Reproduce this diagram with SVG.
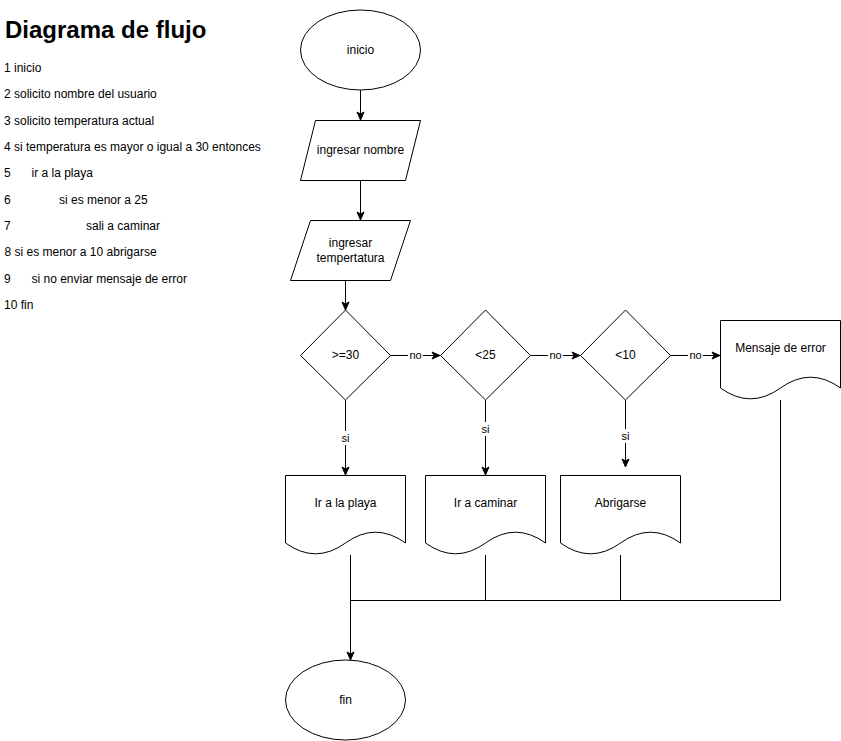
<svg xmlns="http://www.w3.org/2000/svg" width="841" height="741" viewBox="0 0 841 741">
<style>
text{font-family:"Liberation Sans",Arial,Helvetica,sans-serif;fill:#000}
.t{font-size:12px;text-anchor:middle}
.lst{font-size:12px}
.lbl{font-size:11px;text-anchor:middle}
.shp{fill:#fff;stroke:#000;stroke-width:1}
.edge{fill:none;stroke:#000;stroke-width:1}
.lb{fill:#fff}
</style>
<defs>
<marker id="arr" markerUnits="userSpaceOnUse" markerWidth="10" markerHeight="10" viewBox="-9 -5 10 10" refX="0" refY="0" orient="auto">
<path d="M0,0 L-8,-3.5 L-6,0 L-8,3.5 Z" fill="#000" stroke="#000" stroke-width="1"/>
</marker>
</defs>
<rect width="841" height="741" fill="#fff"/>

<g id="notes">
<text x="5" y="38" style="font-size:24px;font-weight:bold">Diagrama de flujo</text>
<text class="lst" x="4" y="72">1 inicio</text>
<text class="lst" x="4" y="98">2 solicito nombre del usuario</text>
<text class="lst" x="4" y="125">3 solicito temperatura actual</text>
<text class="lst" x="4" y="151">4 si temperatura es mayor o igual a 30 entonces</text>
<text class="lst" y="177"><tspan x="4">5</tspan><tspan x="31.5">ir a la playa</tspan></text>
<text class="lst" y="204"><tspan x="4">6</tspan><tspan x="59">si es menor a 25</tspan></text>
<text class="lst" y="230"><tspan x="4">7</tspan><tspan x="86">sali a caminar</tspan></text>
<text class="lst" x="4.5" y="256">8 si es menor a 10 abrigarse</text>
<text class="lst" y="283"><tspan x="4">9</tspan><tspan x="31.5">si no enviar mensaje de error</tspan></text>
<text class="lst" x="4" y="309">10 fin</text>
</g>

<g id="connectors">
<path class="edge" d="M360.5,90 V120" marker-end="url(#arr)"/>
<path class="edge" d="M360.5,180 V220" marker-end="url(#arr)"/>
<path class="edge" d="M345.5,280 V310" marker-end="url(#arr)"/>
<path class="edge" d="M390,355.5 H440" marker-end="url(#arr)"/>
<path class="edge" d="M530,355.5 H580" marker-end="url(#arr)"/>
<path class="edge" d="M670,355.5 H720" marker-end="url(#arr)"/>
<path class="edge" d="M345.5,400 V475" marker-end="url(#arr)"/>
<path class="edge" d="M485.5,400 V475" marker-end="url(#arr)"/>
<path class="edge" d="M625.5,400 V467" marker-end="url(#arr)"/>
<path class="edge" d="M350.5,555 V660" marker-end="url(#arr)"/>
<path class="edge" d="M485.5,555 V600.5 H350.5"/>
<path class="edge" d="M620.5,555 V600.5 H485.5"/>
<path class="edge" d="M780.5,400 V600.5 H620.5"/>
<rect class="lb" x="408" y="348" width="15" height="14"/>
<text class="lbl" x="415.5" y="359">no</text>
<rect class="lb" x="548" y="348" width="15" height="14"/>
<text class="lbl" x="555.5" y="359">no</text>
<rect class="lb" x="688" y="348" width="15" height="14"/>
<text class="lbl" x="695.5" y="359">no</text>
<rect class="lb" x="339" y="431" width="13" height="14"/>
<text class="lbl" x="345.5" y="442">si</text>
<rect class="lb" x="479" y="422" width="13" height="14"/>
<text class="lbl" x="485.5" y="433">si</text>
<rect class="lb" x="619" y="429" width="13" height="14"/>
<text class="lbl" x="625.5" y="440">si</text>
</g>

<g id="inicio">
<ellipse class="shp" cx="360.5" cy="50" rx="60" ry="40"/>
<text class="t" x="360.5" y="54">inicio</text>
</g>
<g id="ingresar-nombre">
<polygon class="shp" points="315.5,120.5 420.5,120.5 405.5,180.5 300.5,180.5"/>
<text class="t" x="360.5" y="154">ingresar nombre</text>
</g>
<g id="ingresar-temperatura">
<polygon class="shp" points="310.5,220.5 410.5,220.5 390.5,280.5 290.5,280.5"/>
<text class="t" x="350.5" y="247">ingresar</text>
<text class="t" x="350.5" y="262">tempertatura</text>
</g>
<g id="cond-30">
<polygon class="shp" points="345.5,310 390.5,355.5 345.5,400 300.5,355.5"/>
<text class="t" x="345.5" y="359">&gt;=30</text>
</g>
<g id="cond-25">
<polygon class="shp" points="485.5,310 530.5,355.5 485.5,400 440.5,355.5"/>
<text class="t" x="485.5" y="359">&lt;25</text>
</g>
<g id="cond-10">
<polygon class="shp" points="625.5,310 670.5,355.5 625.5,400 580.5,355.5"/>
<text class="t" x="625.5" y="359">&lt;10</text>
</g>
<g id="mensaje-error">
<path class="shp" d="M720.5,320.5 H840.5 V388 Q810.5,366.4 780.5,388 Q750.5,409.6 720.5,388 Z"/>
<text class="t" x="780.5" y="352">Mensaje de error</text>
</g>
<g id="ir-playa">
<path class="shp" d="M285.5,475.5 H405.5 V543 Q375.5,521.4 345.5,543 Q315.5,564.6 285.5,543 Z"/>
<text class="t" x="345.5" y="507">Ir a la playa</text>
</g>
<g id="ir-caminar">
<path class="shp" d="M425.5,475.5 H545.5 V543 Q515.5,521.4 485.5,543 Q455.5,564.6 425.5,543 Z"/>
<text class="t" x="485.5" y="507">Ir a caminar</text>
</g>
<g id="abrigarse">
<path class="shp" d="M560.5,475.5 H680.5 V543 Q650.5,521.4 620.5,543 Q590.5,564.6 560.5,543 Z"/>
<text class="t" x="620.5" y="507">Abrigarse</text>
</g>
<g id="fin">
<ellipse class="shp" cx="345.5" cy="700" rx="60" ry="40"/>
<text class="t" x="345.5" y="704">fin</text>
</g>
</svg>
